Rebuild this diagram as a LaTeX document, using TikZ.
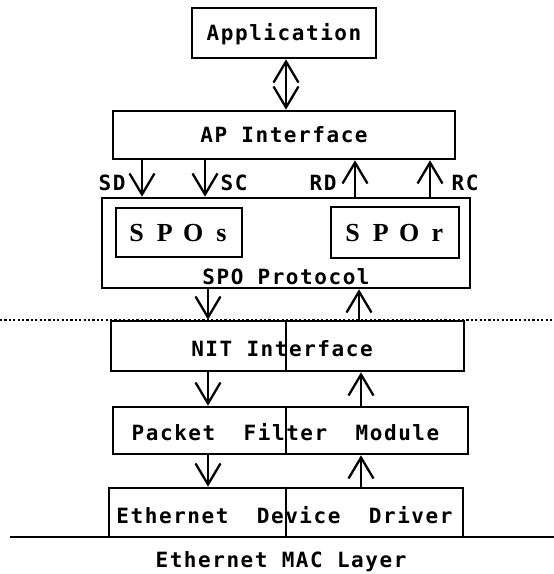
\documentclass[tikz,border=0pt]{standalone}
\usepackage{fontspec}
\usetikzlibrary{arrows.meta}
\newfontfamily\monob{DejaVu Sans Mono}[LetterSpace=7.4]
\newfontfamily\serb{Liberation Serif}
\newcommand{\spacedser}[4]{{\serb\bfseries\makebox[28.3bp]{#1}\makebox[28.3bp]{#2}\makebox[28.3bp]{#3}\makebox[28.3bp]{#4}}}
\begin{document}
\begin{tikzpicture}[x=1bp,y=-1bp,
  box/.style={draw,line width=2.6bp,fill=white,inner sep=0pt,
    font=\monob\bfseries\fontsize{21bp}{25bp}\selectfont,
    text height=15.3bp,text depth=0bp},
  txt/.style={inner sep=0pt,font=\monob\bfseries\fontsize{21bp}{25bp}\selectfont,
    text height=15.3bp,text depth=0bp},
  arr/.style={line width=2.3bp,-{Straight Barb[length=21bp,width=25bp,line width=2.3bp]}},
  darr/.style={line width=2.3bp,{Straight Barb[length=21bp,width=25bp,line width=2.3bp]}-{Straight Barb[length=21bp,width=25bp,line width=2.3bp]}},
  divider/.style={line width=1.4bp}]
\useasboundingbox (0,0) rectangle (554,574);
% dotted separation line
\draw[line width=2.4bp,dash pattern=on 2.2bp off 2.2bp] (0,320) -- (554,320);
% bottom MAC line
\draw[line width=2.6bp] (10,537) -- (554,537);
% boxes
\node[box,minimum width=184bp,minimum height=50bp] (app) at (284,33) {Application};
\node[box,minimum width=342bp,minimum height=48bp] (ap) at (284,135) {AP Interface};
\node[box,minimum width=368bp,minimum height=90bp] (spo) at (286,243) {};
\node[box,minimum width=126bp,minimum height=49bp,font=\fontsize{26bp}{30bp}\selectfont,text height=17.2bp] (spos) at (179,232.5) {\spacedser{S}{P}{O}{s}};
\node[box,minimum width=128bp,minimum height=51bp,font=\fontsize{26bp}{30bp}\selectfont,text height=17.2bp] (spor) at (395,232.5) {\spacedser{S}{P}{O}{r}};
\node[txt] (spolbl) at (286,277) {SPO Protocol};
\node[box,minimum width=353bp,minimum height=50bp] (nit) at (287.5,346) {};
\node[box,minimum width=355bp,minimum height=47bp] (pfm) at (290.5,430.5) {};
\node[box,minimum width=354bp,minimum height=49bp] (edd) at (286,512.5) {};
% dividers inside lower boxes
\draw[divider] (nit.north -| 286,0) -- (nit.south -| 286,0);
\draw[divider] (pfm.north -| 286,0) -- (pfm.south -| 286,0);
\draw[divider] (edd.north -| 286,0) -- (edd.south -| 286,0);
% box texts
\node[txt] (nitlbl) at (282,349) {NIT Interface};
\node[txt] (pfmlbl) at (285.5,433) {Packet~~Filter~~Module};
\node[txt] (eddlbl) at (284.5,516) {Ethernet~~Device~~Driver};
\node[txt] (maclbl) at (281,560) {Ethernet MAC Layer};
% arrows
\draw[darr] (app.south -| 286,0) -- (ap.north -| 286,0);
\draw[arr] (ap.south -| 142,0) -- (spo.north -| 142,0);
\draw[arr] (ap.south -| 205,0) -- (spo.north -| 205,0);
\draw[arr] (spo.north -| 355,0) -- (ap.south -| 355,0);
\draw[arr] (spo.north -| 430,0) -- (ap.south -| 430,0);
\node[txt] (sd) at (112,183) {SD};
\node[txt] (sc) at (234,183) {SC};
\node[txt] (rd) at (323,183) {RD};
\node[txt] (rc) at (465,183) {RC};
\draw[arr] (spo.south -| 208,0) -- (nit.north -| 208,0);
\draw[arr] (nit.north -| 359,0) -- (spo.south -| 359,0);
\draw[arr] (nit.south -| 208,0) -- (pfm.north -| 208,0);
\draw[arr] (pfm.north -| 361,0) -- (nit.south -| 361,0);
\draw[arr] (pfm.south -| 208,0) -- (edd.north -| 208,0);
\draw[arr] (edd.north -| 361,0) -- (pfm.south -| 361,0);
\end{tikzpicture}
\end{document}
